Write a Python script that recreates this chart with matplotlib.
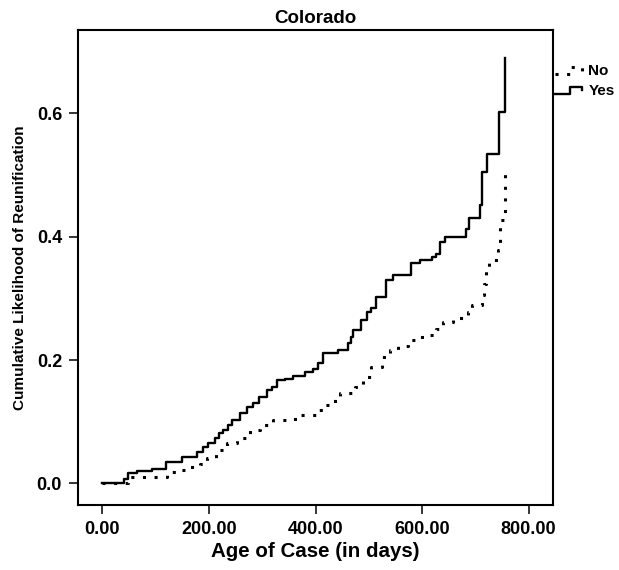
import numpy as np
from matplotlib import pyplot as plt
from matplotlib.lines import Line2D
from matplotlib.legend_handler import HandlerLine2D
from matplotlib.ticker import FormatStrFormatter

# step points (days, cumulative likelihood)
yes_days = [0, 40, 47, 65, 93, 119, 149, 177, 189, 199, 211, 218, 227, 236, 243,
            258, 271, 283, 293, 308, 318, 327, 343, 358, 380, 396, 405, 414, 443,
            461, 466, 471, 486, 496, 505, 514, 533, 546, 580, 596, 618, 627, 633,
            644, 683, 688, 709, 712, 722, 744, 756]
yes_vals = [0.0, 0.008, 0.017, 0.020, 0.024, 0.034, 0.043, 0.051, 0.059, 0.065,
            0.073, 0.081, 0.086, 0.095, 0.103, 0.114, 0.124, 0.130, 0.140, 0.151,
            0.157, 0.168, 0.170, 0.174, 0.181, 0.186, 0.195, 0.211, 0.216, 0.227,
            0.238, 0.249, 0.265, 0.278, 0.284, 0.303, 0.330, 0.338, 0.357, 0.363,
            0.367, 0.372, 0.392, 0.400, 0.413, 0.430, 0.451, 0.505, 0.535, 0.603,
            0.690]

no_days = [0, 47, 121, 140, 164, 183, 196, 214, 233, 252, 277, 296, 321, 346, 371,
           402, 414, 436, 446, 474, 489, 505, 524, 539, 555, 574, 592, 614, 627,
           639, 658, 686, 693, 713, 716, 721, 726, 742, 746, 754, 755]
no_vals = [0.0, 0.010, 0.019, 0.022, 0.027, 0.032, 0.041, 0.054, 0.065, 0.073,
           0.086, 0.095, 0.103, 0.105, 0.111, 0.119, 0.127, 0.138, 0.146, 0.157,
           0.173, 0.189, 0.205, 0.216, 0.223, 0.232, 0.238, 0.240, 0.251, 0.262,
           0.268, 0.278, 0.289, 0.305, 0.324, 0.346, 0.362, 0.378, 0.427, 0.438,
           0.505]

x_ticks = [0, 200, 400, 600, 800]
y_ticks = [0.0, 0.2, 0.4, 0.6]


class StepHandler(HandlerLine2D):
    # legend key drawn as a little step, like the SPSS one
    def create_artists(self, legend, orig_handle, xdescent, ydescent,
                       width, height, fontsize, trans):
        x0 = -xdescent
        lo = -ydescent + 0.15 * height
        hi = -ydescent + 0.75 * height
        xs = [x0, x0 + 0.55 * width, x0 + 0.55 * width, x0 + width, x0 + width]
        ys = [lo, lo, hi, hi, hi - 0.3 * height]
        line = Line2D(xs, ys)
        self.update_prop(line, orig_handle, legend)
        line.set_transform(trans)
        return [line]


def main():
    plt.rcParams['font.family'] = ['Liberation Sans', 'DejaVu Sans']
    plt.rcParams['font.weight'] = 'bold'

    fig = plt.figure(figsize=(6.19, 5.70), dpi=100)
    ax = fig.add_axes([0.126, 0.114, 0.767, 0.833])

    no_line, = ax.step(no_days, no_vals, where='post', color='black',
                       linewidth=2.2, linestyle=(0, (1, 2.8)), label='No')
    yes_line, = ax.step(yes_days, yes_vals, where='post', color='black',
                        linewidth=1.7, label='Yes')

    ax.set_xlim(-46, 845.5)
    ax.set_ylim(-0.035, 0.735)
    ax.set_xticks(x_ticks)
    ax.set_yticks(y_ticks)
    ax.xaxis.set_major_formatter(FormatStrFormatter('%.2f'))
    ax.yaxis.set_major_formatter(FormatStrFormatter('%.1f'))
    ax.tick_params(direction='out', length=6.5, width=1.1, pad=5, labelsize=13)

    for s in ax.spines.values():
        s.set_linewidth(1.5)

    ax.set_title('Colorado', fontsize=13.5, fontweight='bold', pad=5)
    ax.set_xlabel('Age of Case (in days)', fontsize=14.8, fontweight='bold', labelpad=3)
    ax.set_ylabel('Cumulative Likelihood of Reunification', fontsize=11,
                  fontweight='bold', labelpad=7)

    ax.legend(handles=[no_line, yes_line], loc='upper left',
              bbox_to_anchor=(1.004, 0.928), frameon=False, fontsize=11,
              handlelength=1.8, handletextpad=0.4, labelspacing=0.38,
              borderpad=0, borderaxespad=0,
              handler_map={Line2D: StepHandler()})

    fig.savefig('out.png', dpi=100)


if __name__ == '__main__':
    main()
